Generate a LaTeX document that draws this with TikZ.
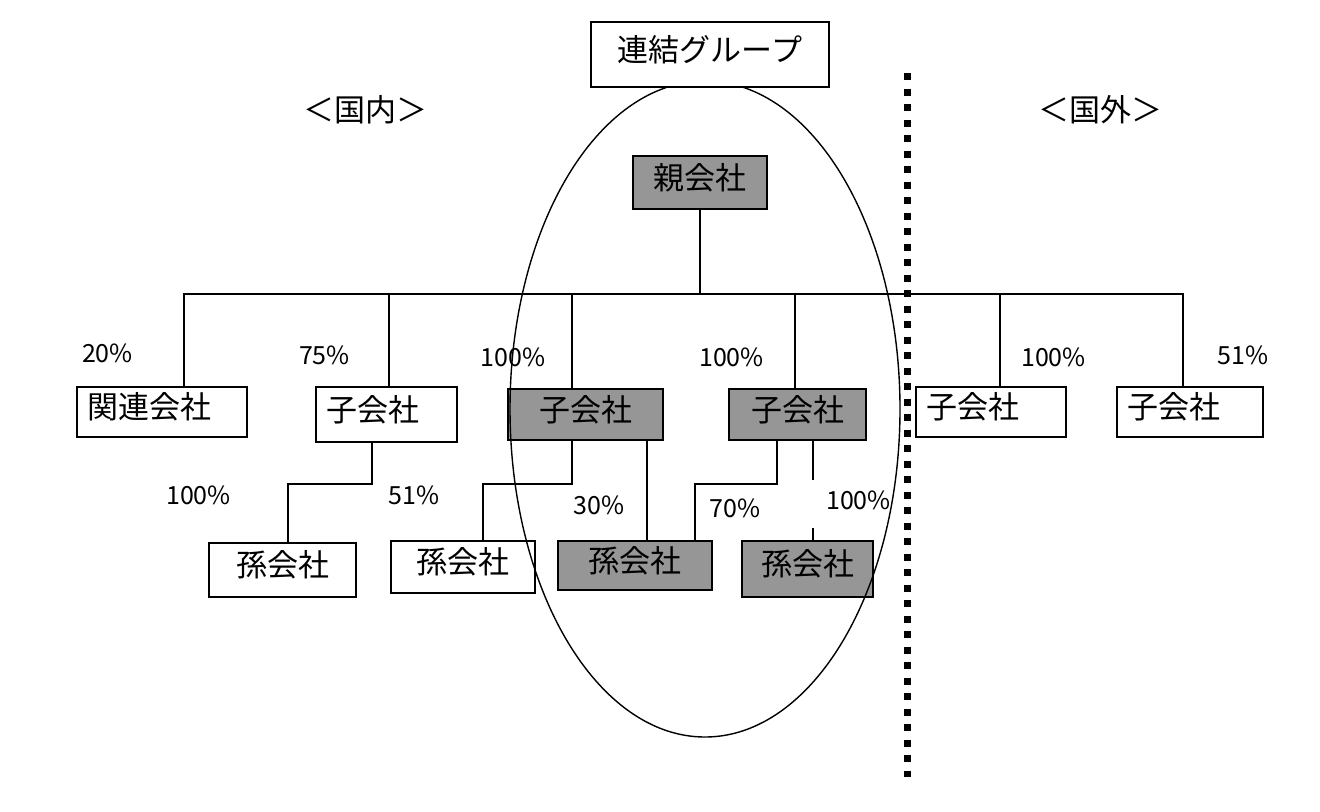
\documentclass[tikz,border=0pt]{standalone}
\usepackage{fontspec}
\setmainfont{Noto Sans CJK JP}
\usepackage{tikz}
\usetikzlibrary{calc,backgrounds}
\definecolor{boxgray}{RGB}{150,150,150}
\pgfdeclarelayer{background}
\pgfsetlayers{background,main}

\begin{document}
\begin{tikzpicture}[x=0.5pt,y=-0.5pt]

    \tikzset{ST/.style={draw=black,solid,line width=0.9pt}}
    \tikzset{WB/.style={draw=black,fill=white,line width=1.1pt,inner sep=0pt,text height=0.8em,text depth=0.12em,font=\fontsize{15.5}{18}\selectfont}}
    \tikzset{GB/.style={WB,fill=boxgray}}
    \tikzset{LB/.style={WB,inner xsep=5pt,align=left,text width=#1}}
    \tikzset{PL/.style={inner sep=0pt,font=\fontsize{12.5}{14}\selectfont}}
    \tikzset{HD/.style={inner sep=0pt,font=\fontsize{15.5}{18}\selectfont}}
    \tikzset{DL/.style={draw=black,line width=3.5pt,dash pattern=on 3.5pt off 4.25pt}}

    \useasboundingbox (0,0) rectangle (1320,811);

    \node (dom) [HD] at (365, 110) {＜国内＞};
    \node (ovs) [HD] at (1100, 110) {＜国外＞};

    \node (oya) [GB,minimum width=67pt,minimum height=26.5pt] at (700, 182.5) {親会社};
    \coordinate (bus) at (700, 294);
        \node (k1) [LB=75pt,minimum height=25pt] at (162, 412) {関連会社};
        \node (k2) [LB=60.5pt,minimum height=27.5pt] at (386.5, 414.5) {子会社};
        \node (k3) [GB,minimum width=77.5pt,minimum height=25.5pt] at (585.5, 414.5) {子会社};
        \node (k4) [GB,minimum width=68.5pt,minimum height=25.5pt] at (797.5, 414.5) {子会社};
        \node (k5) [LB=65pt,minimum height=25pt] at (991, 412) {子会社};
        \node (k6) [LB=63pt,minimum height=25pt] at (1190, 412) {子会社};
            \node (m1) [WB,minimum width=73.5pt,minimum height=27pt] at (282.5, 570) {孫会社};
            \node (m2) [WB,minimum width=72pt,minimum height=26pt] at (463, 567) {孫会社};
            \node (m3) [GB,minimum width=77pt,minimum height=24.5pt] at (635, 565.5) {孫会社};
            \node (m4) [GB,minimum width=65.5pt,minimum height=28pt] at (807.5, 569) {孫会社};

    \node (p1) [PL] at (107.5, 353) {20\%};
    \node (p2) [PL] at (324.5, 355) {75\%};
    \node (p3) [PL] at (513, 357) {100\%};
    \node (p4) [PL] at (731.5, 357) {100\%};
    \node (p5) [PL] at (1053.5, 357) {100\%};
    \node (p6) [PL] at (1243, 355) {51\%};
    \node (p7) [PL] at (198.5, 495) {100\%};
    \node (p8) [PL] at (414, 495) {51\%};
    \node (p9) [PL] at (599, 505) {30\%};
    \node (p10) [PL] at (735, 508) {70\%};
    \node (p11) [PL] at (858.5, 500) {100\%};

    \begin{pgfonlayer}{background}
        \path[ST] (oya.south) -- (bus);
            \path[ST] ($(k1.north)+(22,0)$) |- (bus);
            \path[ST] ($(k2.north)+(2.5,0)$) |- (bus);
            \path[ST] ($(k3.north)+(-13.5,0)$) |- (bus);
            \path[ST] ($(k4.north)+(-2.5,0)$) |- (bus);
            \path[ST] ($(k5.north)+(9,0)$) |- (bus);
            \path[ST] ($(k6.north)+(-7,0)$) |- (bus);
                \path[ST] ($(k2.south)+(-14.5,0)$) -- ++(0,41) -| ($(m1.north)+(5.5,0)$);
                \path[ST] ($(k3.south)+(-13.5,0)$) -- ++(0,43) -| ($(m2.north)+(20,0)$);
                \path[ST] ($(k3.south)+(61.5,0)$) -- ($(m3.north)+(12,0)$);
                \path[ST] ($(k4.south)+(-20.5,0)$) -- ++(0,43) -| ($(m3.north)+(60,0)$);
                \path[ST] ($(k4.south)+(15.5,0)$) -- ++(0,39) coordinate (gap);
                \path[ST] ($(m4.north)+(5.5,0)$) -- ++(0,-12);
    \end{pgfonlayer}

    \draw[line width=0.7pt] (705, 409) ellipse [x radius=97.5pt, y radius=164pt];

    \coordinate (d1) at (907, 73);
    \coordinate (d2) at (907, 777);
    \path[DL] (d1) -- (d2);

    \node (grp) [WB,minimum width=119pt,minimum height=32.5pt] at (710, 54.5) {連結グループ};
\end{tikzpicture}
\end{document}
